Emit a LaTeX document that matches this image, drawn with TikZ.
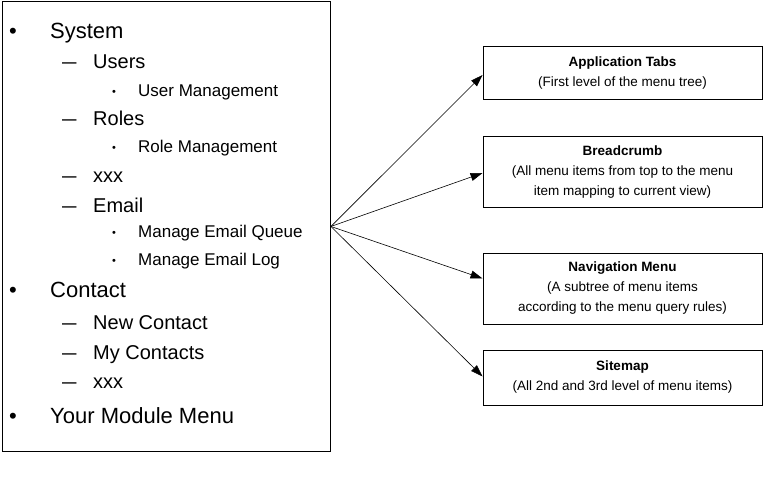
\documentclass[tikz,border=0pt]{standalone}
\usepackage{fontspec}
\setmainfont{Liberation Sans}
\usetikzlibrary{arrows.meta}

\tikzset{
  lvlone/.style={anchor=base west,inner sep=0pt,font=\fontsize{22}{26}\selectfont},
  lvltwo/.style={anchor=base west,inner sep=0pt,font=\fontsize{20}{24}\selectfont},
  lvlthree/.style={anchor=base west,inner sep=0pt,font=\fontsize{17}{20}\selectfont},
  infobox/.style={draw,line width=0.9pt,minimum width=279pt,align=center,inner sep=0pt,
    font=\fontsize{13.5}{20}\selectfont},
  feed/.style={line width=0.6pt,-{Triangle[length=12pt,width=8pt]}}
}

\begin{document}
\begin{tikzpicture}[x=1pt,y=-1pt]
        \useasboundingbox (0,0) rectangle (764,480);

        % Menu tree
        \node[draw,line width=0.9pt,anchor=north west,minimum width=328pt,minimum height=450pt,inner sep=0pt] (menu) at (2,1) {};

        % first level
        \foreach \n/\y/\txt in {sys/38/System, con/297/Contact, mod/423/Your Module Menu}{
            \node[lvlone] (\n-b) at (9,\y) {•};
            \node[lvlone] (\n) at (50,\y) {\txt};
        }
        % second level
        \foreach \n/\y/\txt in {usr/68/Users, rol/125/Roles, xa/182/xxx, eml/212/Email,
                                 new/329/New Contact, my/359/My Contacts, xb/388/xxx}{
            \node[lvltwo] (\n-b) at (62,\y) {\scalebox{1.3}[1]{–}};
            \node[lvltwo] (\n) at (93,\y) {\txt};
        }
        % third level
        \foreach \n/\y/\txt in {um/96/User Management, rm/152/Role Management,
                                 meq/237/Manage Email Queue, mel/265/Manage Email Log}{
            \node[lvlthree,font=\fontsize{11}{13}\selectfont] (\n-b) at (112,{\y-1}) {•};
            \node[lvlthree] (\n) at (138,\y) {\txt};
        }

        % Cajas
        \node[infobox,minimum height=53pt] (tabs) at (622.5,73) {\textbf{Application Tabs}\\(First level of the menu tree)};
        \node[infobox,minimum height=71pt] (crumb) at (622.5,172) {\textbf{Breadcrumb}\\(All menu items from top to the menu\\item mapping to current view)};
        \node[infobox,minimum height=71pt] (nav) at (622.5,288.5) {\textbf{Navigation Menu}\\(A subtree of menu items\\according to the menu query rules)};
        \node[infobox,minimum height=55pt] (map) at (622.5,377.5) {\textbf{Sitemap}\\(All 2nd and 3rd level of menu items)};

        % Flechas
        \draw[feed] (menu.east) -- ([yshift=-2pt]tabs.west);
        \draw[feed] (menu.east) -- ([yshift=-1pt]crumb.west);
        \draw[feed] (menu.east) -- ([yshift=10pt]nav.west);
        \draw[feed] (menu.east) -- ([yshift=1pt]map.west);
    \end{tikzpicture}
\end{document}
